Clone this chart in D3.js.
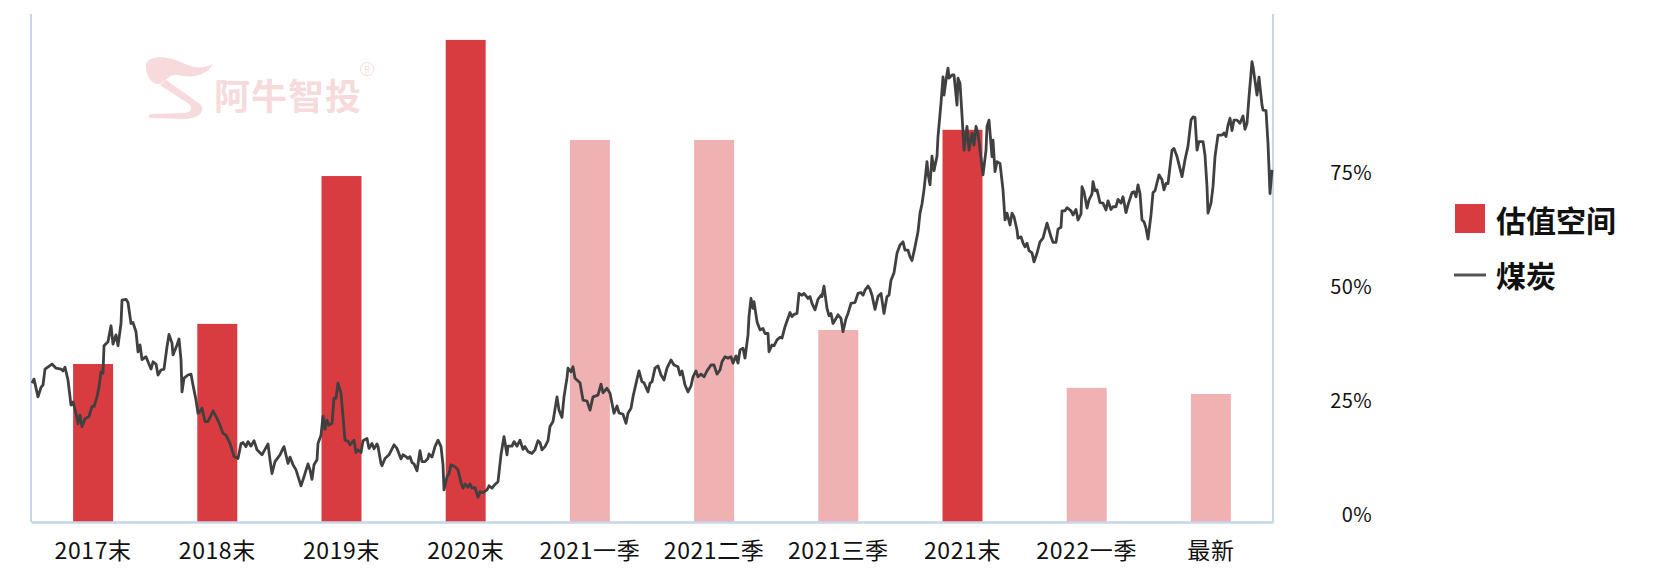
<!DOCTYPE html>
<html><head><meta charset="utf-8">
<script src="https://cdn.jsdelivr.net/npm/d3@7"></script>
<style>
html,body{margin:0;padding:0;background:#fff;}
svg{display:block;font-family:"Noto Sans CJK SC","Noto Sans",sans-serif;}
</style></head>
<body>
<svg id="chart" width="1662" height="574"></svg>
<script>
// ---- data ----
const categories = ["2017末","2018末","2019末","2020末","2021一季","2021二季","2021三季","2021末","2022一季","最新"];
const valuationSpace = [31.1, 39.0, 68.1, 94.9, 75.2, 75.2, 37.8, 77.2, 26.4, 25.2]; // 估值空间 (%)
const yearEnd = [true, true, true, true, false, false, false, true, false, false];
const rightTicks = [0, 25, 50, 75];
const seriesNames = ["估值空间", "煤炭"];
// 煤炭 percentile line: [trading-day index, value %]
const coal = [
[1,28.9],[3,29.8],[7,25.9],[10,28.0],[12,28.5],[14,32.0],[21,33.1],[25,32.2],[30,32.0],[32,31.6],[34,32.4],[37,29.6],[40,24.1],[42,24.8],[45,22.3],[47,20.0],[49,21.9],[51,19.4],[54,21.1],[58,21.6],[61,23.8],[63,23.8],[66,25.9],[68,28.1],[70,31.4],[72,31.1],[73,37.1],[77,38.0],[80,41.5],[82,37.5],[85,39.5],[87,37.1],[90,42.0],[91,47.1],[95,47.3],[97,46.6],[100,42.0],[102,42.2],[105,40.2],[107,35.8],[109,37.3],[111,34.1],[115,34.7],[117,33.6],[120,32.0],[122,33.6],[125,33.1],[127,30.7],[130,31.8],[133,32.0],[136,36.9],[138,39.6],[141,37.7],[142,35.1],[146,37.3],[148,38.6],[150,34.0],[151,27.0],[153,30.0],[157,30.7],[160,30.9],[162,28.5],[165,25.2],[167,22.3],[169,22.7],[171,23.4],[174,20.5],[177,20.5],[182,22.8],[186,21.2],[189,19.7],[192,17.9],[195,17.5],[199,15.7],[203,12.9],[207,12.4],[210,15.7],[212,15.9],[215,15.0],[217,16.1],[220,15.1],[223,16.3],[226,14.3],[231,13.2],[237,15.6],[239,12.1],[241,9.1],[244,11.7],[249,13.2],[252,14.6],
[253,15.0],[257,11.3],[259,12.7],[262,11.0],[265,9.9],[270,6.4],[273,8.4],[277,11.2],[279,9.9],[281,7.8],[283,11.0],[286,12.1],[287,15.7],[290,17.5],[292,21.7],[294,18.8],[296,20.8],[298,19.7],[301,20.1],[303,25.6],[305,25.6],[307,28.9],[310,26.7],[312,21.6],[314,16.4],[317,16.2],[319,15.4],[323,16.4],[325,13.7],[327,14.3],[330,13.7],[332,16.3],[336,16.8],[338,14.6],[341,15.7],[343,14.5],[346,15.6],[347,15.0],[350,11.3],[351,10.8],[354,12.4],[358,13.2],[363,15.4],[366,14.6],[370,12.3],[372,13.2],[375,12.8],[377,12.4],[379,12.8],[381,11.5],[383,11.2],[386,9.7],[389,14.1],[391,11.7],[394,11.7],[397,12.4],[398,13.4],[401,12.7],[404,15.0],[407,16.4],[410,15.0],[412,11.0],[413,5.5],[416,8.4],[418,9.1],[420,11.0],[424,10.6],[427,9.9],[430,7.1],[432,5.9],[434,6.8],[437,6.1],[439,6.8],[441,5.9],[444,6.0],[447,3.9],[449,5.1],[452,4.9],[456,5.5],[458,6.4],[461,5.9],[464,6.7],[467,7.3],[470,13.2],[473,17.2],[476,13.2],[477,15.1],[481,15.1],[483,16.1],[486,15.1],[489,16.4],[492,14.4],[494,15.0],[497,13.9],[501,13.5],[504,14.3],
[507,16.3],[509,15.9],[511,14.3],[514,15.0],[517,16.3],[519,19.4],[522,20.5],[526,25.9],[528,23.0],[531,21.4],[533,25.9],[536,30.1],[537,32.2],[540,31.4],[542,32.5],[544,30.0],[549,29.0],[552,25.2],[556,25.0],[559,23.0],[562,25.9],[567,26.3],[570,28.7],[572,26.8],[576,27.8],[579,26.7],[581,24.5],[583,22.3],[586,23.9],[588,22.4],[592,22.1],[595,20.1],[597,22.3],[600,23.4],[602,25.9],[606,29.8],[608,31.6],[611,29.2],[613,29.0],[617,27.0],[619,28.9],[621,29.2],[624,32.2],[627,32.7],[630,30.7],[633,29.6],[636,32.2],[640,34.0],[643,32.9],[647,32.5],[649,30.7],[651,31.6],[654,28.5],[657,27.0],[660,28.3],[662,30.3],[665,31.6],[667,30.3],[670,30.9],[673,30.3],[676,31.6],[680,32.9],[683,32.9],[686,30.9],[689,31.8],[691,33.6],[694,34.7],[697,34.4],[700,34.7],[702,33.3],[705,34.9],[707,33.3],[709,36.2],[712,36.6],[714,34.4],[717,39.5],[718,43.5],[720,47.5],[722,45.3],[723,46.8],[726,42.4],[729,40.6],[732,40.9],[734,39.8],[737,39.8],[738,35.8],[741,37.3],[743,37.1],[746,38.4],[749,39.0],[751,38.8],[754,41.3],
[759,44.4],[761,43.5],[763,44.0],[766,44.2],[768,48.6],[771,48.2],[773,48.6],[777,47.5],[779,47.9],[781,46.4],[784,45.0],[787,47.3],[790,48.2],[791,47.9],[793,50.2],[796,45.3],[798,43.7],[800,44.2],[802,42.0],[805,43.1],[807,43.9],[810,43.1],[812,40.2],[815,43.1],[817,44.2],[820,46.4],[824,46.6],[827,48.6],[830,48.8],[832,48.2],[834,49.3],[837,50.2],[839,49.5],[841,48.2],[844,45.1],[847,47.9],[850,48.6],[853,44.2],[856,47.9],[858,48.2],[860,51.5],[863,53.1],[866,57.4],[869,59.2],[872,59.9],[874,58.1],[877,58.1],[879,56.6],[881,55.8],[884,58.8],[887,62.1],[889,66.2],[891,68.2],[893,71.3],[896,77.5],[897,74.9],[899,72.4],[901,78.7],[903,75.5],[906,78.7],[907,83.0],[910,90.3],[912,96.1],[913,92.1],[915,95.4],[917,98.0],[918,95.8],[921,96.5],[923,96.5],[926,89.9],[927,95.8],[929,94.7],[931,87.7],[933,80.0],[936,85.2],[938,80.0],[941,83.7],[943,81.1],[945,85.2],[947,83.7],[951,76.4],[952,74.6],[955,80.0],[956,85.2],[958,86.6],[961,78.6],[962,82.2],[964,75.3],[966,77.5],[969,77.1],[972,71.3],[974,64.7],[976,66.2],[979,63.6],[981,66.2],[983,65.4],[986,62.5],[987,60.7],[990,61.0],[992,59.7],
[994,58.8],[996,59.6],[998,58.0],[1001,57.5],[1003,55.5],[1006,57.4],[1009,59.9],[1012,60.7],[1016,64.0],[1020,61.0],[1022,59.8],[1025,59.8],[1027,62.7],[1030,63.1],[1031,66.7],[1034,66.7],[1036,67.4],[1040,66.7],[1042,65.8],[1045,67.0],[1047,64.7],[1050,66.0],[1051,72.0],[1053,70.9],[1056,67.3],[1058,69.1],[1061,70.4],[1062,73.1],[1064,71.1],[1066,71.3],[1069,68.5],[1072,68.4],[1075,66.9],[1077,68.9],[1080,67.0],[1082,67.6],[1085,67.6],[1087,69.2],[1090,68.4],[1092,69.8],[1095,66.3],[1097,68.0],[1101,70.7],[1103,70.9],[1105,69.8],[1107,72.4],[1109,70.5],[1111,64.7],[1113,64.3],[1115,62.9],[1117,60.5],[1120,65.8],[1122,70.7],[1124,71.1],[1128,74.6],[1131,73.5],[1133,71.3],[1135,72.7],[1137,72.7],[1141,80.0],[1143,80.4],[1146,78.6],[1151,74.2],[1154,77.9],[1157,80.9],[1160,86.6],[1162,87.3],[1164,87.2],[1166,80.0],[1168,81.9],[1172,81.9],[1174,78.9],[1176,72.0],[1177,66.2],[1180,68.4],[1182,72.0],[1184,78.6],[1187,83.3],[1191,83.3],[1193,83.8],[1195,83.0],[1197,85.5],[1199,87.0],[1201,84.3],[1203,86.6],[1206,86.6],[1209,85.9],[1212,87.5],[1214,84.6],[1216,85.9],[1218,91.7],[1221,99.4],[1222,98.3],[1226,92.1],[1228,96.0],[1231,89.9],[1232,88.8],[1235,88.7],[1237,81.5],[1239,70.5],[1241,75.7]
];

// ---- layout ----
const plot = {left: 31, right: 1273, top: 14, bottom: 522};
const svg = d3.select("#chart");
const darkRed = "#D83B40", lightRed = "#F0B1B2", axisCol = "#C9D5E8", lineCol = "#404040";

const x = d3.scaleBand().domain(categories).range([plot.left, plot.right]).paddingInner(0.678).paddingOuter(0.339);
const yBar = d3.scaleLinear().domain([0, 100]).range([plot.bottom, plot.top]);
const xLine = d3.scaleLinear().domain([0, 1241]).range([plot.left, plot.right - 1]);
const yLine = d3.scaleLinear().domain([0, 75]).range([515, 173]);

// watermark
const wm = svg.append("g").attr("fill", "#F7DADB");
wm.append("path").attr("d", "M146,64 C150,54 170,56 185,64 C195,69 205,68 213,64 C208,74 195,78 184,76 C178,75 172,74 168,78 L160,84 C152,85 145,76 146,64 Z");
wm.append("path").attr("d", "M166,80 L200,104 C206,110 200,118 186,119 L150,118 C147,116 149,114 153,114 L184,113 C192,112 193,108 189,104 L160,85 Z");
wm.append("text").attr("x", 214).attr("y", 110).attr("font-size", 36).attr("font-weight", 700).attr("letter-spacing", 1).text("阿牛智投");
wm.append("circle").attr("cx", 367).attr("cy", 69).attr("r", 6.5).attr("fill", "none").attr("stroke", "#F7DADB").attr("stroke-width", 1);
wm.append("text").attr("x", 367).attr("y", 72.5).attr("font-size", 9).attr("text-anchor", "middle").text("R");

// bars
svg.append("g").selectAll("rect").data(categories).join("rect")
  .attr("x", d => x(d))
  .attr("width", x.bandwidth())
  .attr("y", (d, i) => yBar(valuationSpace[i]))
  .attr("height", (d, i) => yBar(0) - yBar(valuationSpace[i]))
  .attr("fill", (d, i) => yearEnd[i] ? darkRed : lightRed);

// axis frame
svg.append("line").attr("x1", plot.left).attr("x2", plot.left).attr("y1", plot.top).attr("y2", plot.bottom)
  .attr("stroke", axisCol).attr("stroke-width", 2);
svg.append("line").attr("x1", plot.right).attr("x2", plot.right).attr("y1", plot.top).attr("y2", plot.bottom)
  .attr("stroke", axisCol).attr("stroke-width", 2);

// x axis
const gx = svg.append("g").attr("transform", `translate(0,${plot.bottom})`)
  .call(d3.axisBottom(x).tickSize(0).tickSizeOuter(0).tickPadding(21));
gx.select(".domain").attr("stroke", axisCol).attr("stroke-width", 2.5);
gx.selectAll("text").attr("font-size", 23).attr("letter-spacing", 0.6).attr("fill", "#111").attr("font-family", "'Noto Sans CJK SC',sans-serif");

// right value axis
const gy = svg.append("g").attr("transform", "translate(1372,0)")
  .call(d3.axisLeft(yLine).tickValues(rightTicks).tickFormat(d => d + "%").tickSize(0).tickPadding(0));
gy.select(".domain").remove();
gy.selectAll("text").attr("font-size", 20).attr("letter-spacing", 0.4).attr("fill", "#111").attr("font-family", "'Noto Sans CJK SC',sans-serif");

// line
svg.append("path").datum(coal)
  .attr("d", d3.line().x(d => xLine(d[0])).y(d => yLine(d[1])))
  .attr("fill", "none").attr("stroke", lineCol).attr("stroke-width", 2.8).attr("stroke-linejoin", "round");

// legend
const lg = svg.append("g");
lg.append("rect").attr("x", 1455).attr("y", 204).attr("width", 30).attr("height", 29).attr("fill", darkRed);
lg.append("text").attr("x", 1496).attr("y", 221).attr("dy", "0.35em").attr("font-size", 30).attr("font-weight", 700).attr("fill", "#111").text(seriesNames[0]);
lg.append("line").attr("x1", 1454).attr("x2", 1486).attr("y1", 275).attr("y2", 275).attr("stroke", "#555").attr("stroke-width", 3);
lg.append("text").attr("x", 1496).attr("y", 276).attr("dy", "0.35em").attr("font-size", 30).attr("font-weight", 700).attr("fill", "#111").text(seriesNames[1]);
</script>
</body></html>
